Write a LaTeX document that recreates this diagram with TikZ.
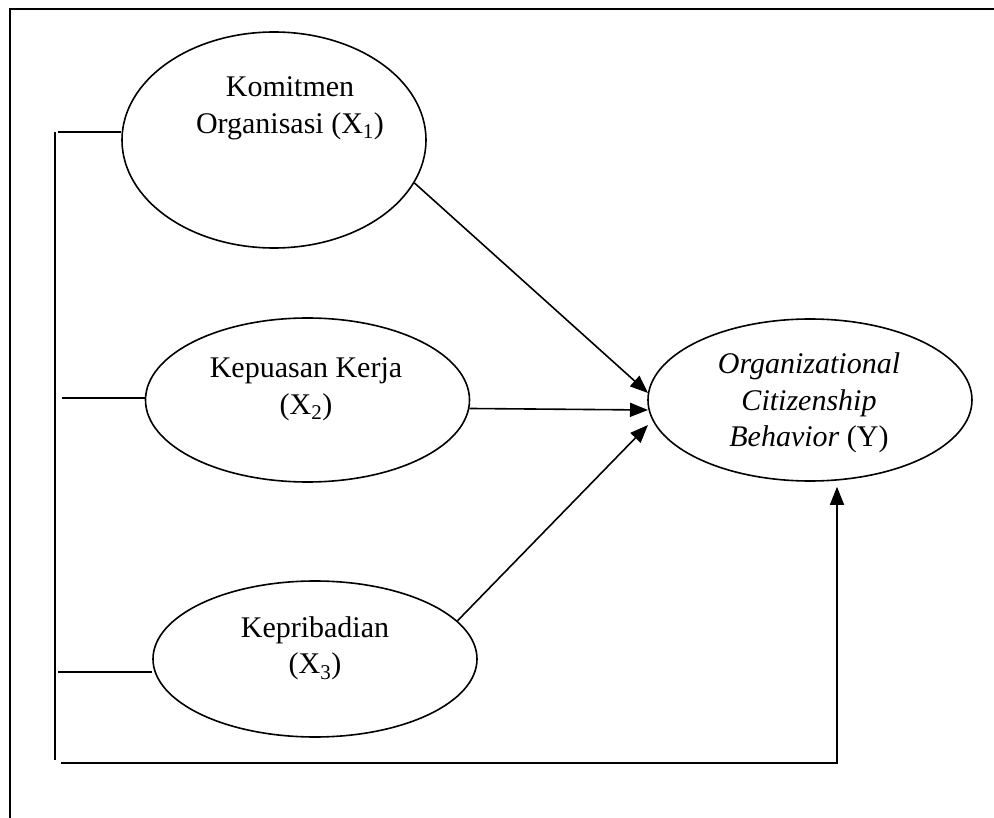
\documentclass[tikz,border=0pt]{standalone}
\usepackage{fontspec}
\setmainfont{Liberation Serif}
\usetikzlibrary{shapes.geometric,arrows.meta,calc}
\begin{document}
\begin{tikzpicture}[x=1pt,y=-1pt,
  var/.style={draw,ellipse,line width=1.6pt,inner sep=0pt},
  lbl/.style={align=center,font=\fontsize{30}{36.5}\selectfont,inner sep=0pt},
  ln/.style={line width=1.6pt},
  arr/.style={ln,-{Triangle[length=18pt,width=14pt]}}]
\useasboundingbox (0,0) rectangle (994,818);
% frame
\coordinate (fa) at (10,818);
\coordinate (fb) at (10,9);
\coordinate (fc) at (994,9);
\draw[line width=2.2pt] (fa) -- (fb) -- (fc);
% variables
\node[var,minimum width=304pt,minimum height=216pt] (e1) at (274,140) {};
\node[var,minimum width=324pt,minimum height=164pt] (e2) at (307.5,400) {};
\node[var,minimum width=324pt,minimum height=156pt] (e3) at (315,659) {};
\node[var,minimum width=324pt,minimum height=162pt] (ocb) at (810,400) {};
% labels
\node[lbl] (l1) at (290,108.5) {Komitmen\\Organisasi (X\textsubscript{1})};
\node[lbl] (l2) at (306,389.5) {Kepuasan Kerja\\(X\textsubscript{2})};
\node[lbl] (l3) at (315,648.5) {Kepribadian\\(X\textsubscript{3})};
\node[lbl] (l4) at (809,403) {\textit{Organizational}\\\textit{Citizenship}\\\textit{Behavior} (Y)};
% bus
\coordinate (btop) at (55,132);
\coordinate (bbot) at (55,760);
\draw[ln] (btop) -- (bbot);
\coordinate (h1) at (58,132);
\coordinate (h2) at (62,398);
\coordinate (h3) at (58,672);
\draw[ln] (h1) -- (h1 -| e1.west);
\draw[ln] (h2) -- (h2 -| e2.west);
\draw[ln] (h3) -- (h3 -| e3.west);
\coordinate (h4) at (61,763);
\coordinate (c4) at (837,763);
\draw[arr] (h4) -- (c4) -- ($(c4 |- ocb.south)+(0,5)$);
% arrows into OCB
\coordinate (t1) at (648,393);
\coordinate (t2) at (648,410);
\coordinate (t3) at (648,425);
\draw[arr] (e1.-17) -- (t1);
\draw[arr] (e2.-3.2) -- (t2);
\draw[arr] (e3.15) -- (t3);
\end{tikzpicture}
\end{document}
